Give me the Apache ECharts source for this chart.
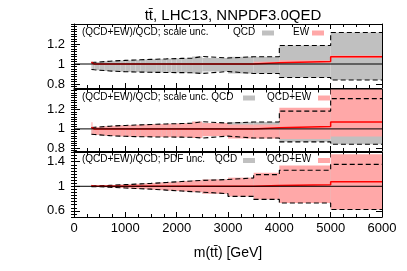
<!DOCTYPE html>
<html><head><meta charset="utf-8">
<script src="https://cdn.jsdelivr.net/npm/echarts@6/dist/echarts.min.js"></script>
<style>html,body{margin:0;padding:0;background:#fff}#c{width:407px;height:271px}</style>
</head><body><div id="c"></div>
<script>
// ---- data ----
const binEdges = [340, 360, 400, 500, 600, 700, 800, 900, 1000, 1100, 1200, 1300, 1400, 1500, 1600, 1700, 1800, 1900, 2000, 2100, 2200, 2300, 2500, 3000, 3500, 4000, 5000, 6000];
// QCD scale uncertainty band (ratio to QCD central)
const qcdScaleUp = [1.015, 1.017, 1.020, 1.024, 1.028, 1.031, 1.034, 1.036, 1.038, 1.040, 1.042, 1.044, 1.046, 1.048, 1.050, 1.051, 1.053, 1.054, 1.056, 1.057, 1.058, 1.075, 1.060, 1.072, 1.072, 1.185, 1.315];
const qcdScaleLo = [0.945, 0.942, 0.938, 0.934, 0.930, 0.927, 0.925, 0.923, 0.921, 0.920, 0.919, 0.918, 0.917, 0.916, 0.916, 0.915, 0.915, 0.914, 0.914, 0.913, 0.913, 0.905, 0.925, 0.905, 0.905, 0.865, 0.840];
// (QCD+EW)/QCD central
const ewCentral = [1.015, 0.999, 0.999, 0.999, 0.999, 0.999, 0.999, 0.999, 0.999, 0.999, 0.999, 0.999, 0.999, 0.999, 0.999, 0.999, 0.999, 0.999, 0.999, 0.999, 0.999, 0.999, 1.000, 1.000, 1.013, 1.025, 1.072];
// EW scale band (top panel)
const ewScaleUp = [1.030, 1.006, 1.006, 1.006, 1.006, 1.006, 1.006, 1.006, 1.006, 1.006, 1.006, 1.006, 1.006, 1.006, 1.006, 1.006, 1.006, 1.006, 1.006, 1.006, 1.006, 1.006, 1.009, 1.010, 1.023, 1.037, 1.084];
const ewScaleLo = [1.000, 0.992, 0.992, 0.992, 0.992, 0.992, 0.992, 0.992, 0.992, 0.992, 0.992, 0.992, 0.992, 0.992, 0.992, 0.992, 0.992, 0.992, 0.992, 0.992, 0.992, 0.992, 0.991, 0.990, 1.003, 1.013, 1.060];
// QCD+EW scale band (middle panel)
const qcdEwScaleUp = [1.070, 1.017, 1.020, 1.024, 1.028, 1.031, 1.034, 1.036, 1.038, 1.040, 1.042, 1.044, 1.046, 1.048, 1.050, 1.051, 1.053, 1.054, 1.056, 1.057, 1.058, 1.075, 1.060, 1.045, 1.045, 1.220, 1.430];
const qcdEwScaleLo = [0.940, 0.942, 0.938, 0.934, 0.930, 0.927, 0.925, 0.923, 0.921, 0.920, 0.919, 0.918, 0.917, 0.916, 0.916, 0.915, 0.915, 0.914, 0.914, 0.913, 0.913, 0.905, 0.925, 0.900, 0.900, 0.895, 0.920];
// QCD PDF band (bottom panel)
const qcdPdfUp = [1.005, 1.006, 1.008, 1.011, 1.015, 1.019, 1.023, 1.027, 1.031, 1.035, 1.039, 1.043, 1.047, 1.052, 1.057, 1.062, 1.067, 1.072, 1.077, 1.082, 1.087, 1.095, 1.110, 1.136, 1.190, 1.260, 1.356];
const qcdPdfLo = [0.995, 0.994, 0.992, 0.989, 0.985, 0.981, 0.977, 0.973, 0.969, 0.965, 0.961, 0.957, 0.953, 0.948, 0.943, 0.938, 0.933, 0.928, 0.923, 0.918, 0.913, 0.905, 0.880, 0.836, 0.787, 0.727, 0.623];
// QCD+EW PDF band (bottom panel)
const qcdEwPdfUp = [1.020, 1.006, 1.008, 1.011, 1.015, 1.019, 1.023, 1.027, 1.031, 1.035, 1.039, 1.043, 1.047, 1.052, 1.057, 1.062, 1.067, 1.072, 1.077, 1.082, 1.087, 1.095, 1.110, 1.140, 1.220, 1.340, 1.520];
const qcdEwPdfLo = [0.990, 0.994, 0.992, 0.989, 0.985, 0.981, 0.977, 0.973, 0.969, 0.965, 0.961, 0.957, 0.953, 0.948, 0.943, 0.938, 0.933, 0.928, 0.923, 0.918, 0.913, 0.905, 0.880, 0.836, 0.787, 0.727, 0.623];
// axes
const xTickStep = 1000;
const yLabelsScale = [0.8, 1, 1.2];
const yLabelsPdf = [0.6, 1, 1.4];
const titleText = 'tt\u0304, LHC13, NNPDF3.0QED';
const xTitle = 'm(tt\u0304) [GeV]';
const panelLabels = ['(QCD+EW)/QCD; scale unc.', '(QCD+EW)/QCD; scale unc. QCD', '(QCD+EW)/QCD; PDF unc.'];
const legendNames = [['QCD', 'EW'], ['', 'QCD+EW'], ['QCD', 'QCD+EW']];

// ---- styles / layout ----
const FONT = '"Liberation Sans", Arial, Helvetica, sans-serif';
const GREY = '#c0c0c0', PINK = '#ffa8a8', RED = '#ff0000';
const L = 74, W = 308;
const panels = [
  {top: 24, height: 64, min: 0.76, max: 1.4, labels: yLabelsScale, minorStep: 0.025,
   band1: [qcdScaleLo, qcdScaleUp], band2: [ewScaleLo, ewScaleUp], dashed: [qcdScaleLo, qcdScaleUp]},
  {top: 89.5, height: 61.5, min: 0.77, max: 1.41, labels: yLabelsScale, minorStep: 0.025,
   band1: [qcdScaleLo, qcdScaleUp], band2: [qcdEwScaleLo, qcdEwScaleUp], dashed: [qcdScaleLo, qcdScaleUp]},
  {top: 152.5, height: 64.5, min: 0.5, max: 1.55, labels: yLabelsPdf, minorStep: 0.05,
   band1: [qcdPdfLo, qcdPdfUp], band2: [qcdEwPdfLo, qcdEwPdfUp], dashed: [qcdPdfLo, qcdPdfUp]}
];

function minorVals(min, max, step) {
  const out = [];
  for (let k = Math.ceil(min / step - 1e-9); k * step <= max + 1e-9; k++) out.push(+(k * step).toFixed(4));
  return out;
}
function stepPts(vals) {
  const pts = vals.map((v, i) => [binEdges[i], v]);
  pts.push([binEdges[binEdges.length - 1], vals[vals.length - 1]]);
  return pts;
}
function bandData(lo, hi) {
  return lo.map((v, i) => [binEdges[i], binEdges[i + 1], v, hi[i]]);
}
function bandSeries(g, name, lo, hi, color, z) {
  return {
    type: 'custom', name, xAxisIndex: 2 * g, yAxisIndex: 4 * g, z, silent: true,
    itemStyle: {color},
    encode: {x: [0, 1], y: [2, 3]},
    data: bandData(lo, hi),
    renderItem(params, api) {
      const p0 = api.coord([api.value(0), api.value(3)]);
      const p1 = api.coord([api.value(1), api.value(2)]);
      const cs = params.coordSys;
      const r = echarts.graphic.clipRectByRect(
        {x: p0[0], y: p0[1], width: p1[0] - p0[0], height: p1[1] - p0[1]},
        {x: cs.x, y: cs.y, width: cs.width, height: cs.height});
      return r && {type: 'rect', shape: r, style: {fill: color}};
    }
  };
}
function lineSeries(g, data, style, z, step) {
  return {type: 'line', xAxisIndex: 2 * g, yAxisIndex: 4 * g, data, step: step ? 'end' : false,
    symbol: 'none', z, silent: true, lineStyle: style, animation: false};
}

const grid = [], xAxis = [], yAxis = [], series = [], graphic = [];
panels.forEach((p, g) => {
  grid.push({left: L, width: W, top: p.top, height: p.height, containLabel: false});
  const last = g === 2;
  const xBase = {gridIndex: g, type: 'value', min: 0, max: 6000, interval: xTickStep,
    axisLine: {show: true, onZero: false, lineStyle: {color: '#000', width: 1}},
    axisTick: {show: true, inside: true, length: 5, lineStyle: {color: '#000'}},
    minorTick: {show: true, splitNumber: 4, length: 3, lineStyle: {color: '#000'}},
    splitLine: {show: false}};
  xAxis.push(Object.assign({}, xBase, {position: 'bottom',
    axisLabel: {show: last, color: '#000', fontFamily: FONT, fontSize: 13, margin: 5, formatter: v => String(v)},
    name: last ? xTitle : '', nameLocation: 'middle', nameGap: 29,
    nameTextStyle: {color: '#000', fontFamily: FONT, fontSize: 14}}));
  xAxis.push(Object.assign({}, xBase, {position: 'top', axisLabel: {show: false}}));
  const minors = minorVals(p.min, p.max, p.minorStep);
  ['left', 'right'].forEach(pos => {
    yAxis.push({gridIndex: g, type: 'value', min: p.min, max: p.max, position: pos,
      axisLine: {show: true, onZero: false, lineStyle: {color: '#000', width: 1}},
      axisTick: {show: true, inside: true, length: 6, customValues: p.labels, lineStyle: {color: '#000'}},
      axisLabel: {show: pos === 'left', customValues: p.labels, color: '#000', fontFamily: FONT, fontSize: 13, margin: 9, formatter: v => String(v)},
      splitLine: {show: false}});
    yAxis.push({gridIndex: g, type: 'value', min: p.min, max: p.max, position: pos,
      axisLine: {show: false},
      axisTick: {show: true, inside: true, length: 3, customValues: minors, lineStyle: {color: '#000'}},
      axisLabel: {show: false}, splitLine: {show: false}});
  });
  series.push(bandSeries(g, 'QCD', p.band1[0], p.band1[1], GREY, 1));
  series.push(bandSeries(g, g === 0 ? 'EW' : 'QCD+EW', p.band2[0], p.band2[1], PINK, 2));
  series.push(lineSeries(g, stepPts(p.dashed[0]), {color: '#000', width: 1.1, type: [5, 3]}, 3, true));
  series.push(lineSeries(g, stepPts(p.dashed[1]), {color: '#000', width: 1.1, type: [5, 3]}, 3, true));
  series.push(lineSeries(g, stepPts(ewCentral), {color: RED, width: 1.5}, 4, true));
  series.push(lineSeries(g, [[0, 1], [6000, 1]], {color: '#000', width: 1}, 5, false));
});

// panel labels + legend
const textY = [33, 98, 160.5];
const legQcdText = [233, null, 215];
const legQcdBox = [262, 243, 243];
const legSecondText = [293, 267, 267];
const legSecondBox = [312, 318, 318];
const tstyle = {fill: '#000', font: '10px ' + FONT, textVerticalAlign: 'middle'};
panelLabels.forEach((t, g) => {
  graphic.push({type: 'text', left: 82, top: textY[g] - 6, z: 100, style: Object.assign({text: t}, tstyle)});
  if (legQcdText[g] !== null) graphic.push({type: 'text', left: legQcdText[g], top: textY[g] - 6, z: 100, style: Object.assign({text: legendNames[g][0]}, tstyle)});
  graphic.push({type: 'rect', left: legQcdBox[g], top: textY[g] - 2.5, z: 100, shape: {width: 12, height: 5}, style: {fill: GREY}});
  graphic.push({type: 'text', left: legSecondText[g], top: textY[g] - 6, z: 100, style: Object.assign({text: legendNames[g][1]}, tstyle)});
  graphic.push({type: 'rect', left: legSecondBox[g], top: textY[g] - 2.5, z: 100, shape: {width: 12, height: 5}, style: {fill: PINK}});
});

const chart = echarts.init(document.getElementById('c'), null, {renderer: 'canvas'});
chart.setOption({
  animation: false,
  backgroundColor: '#fff',
  title: {text: titleText, left: 228, top: 3, textAlign: 'center',
    textStyle: {fontFamily: FONT, fontSize: 15, fontWeight: 'normal', color: '#000'}},
  grid, xAxis, yAxis, series, graphic
});
</script></body></html>
